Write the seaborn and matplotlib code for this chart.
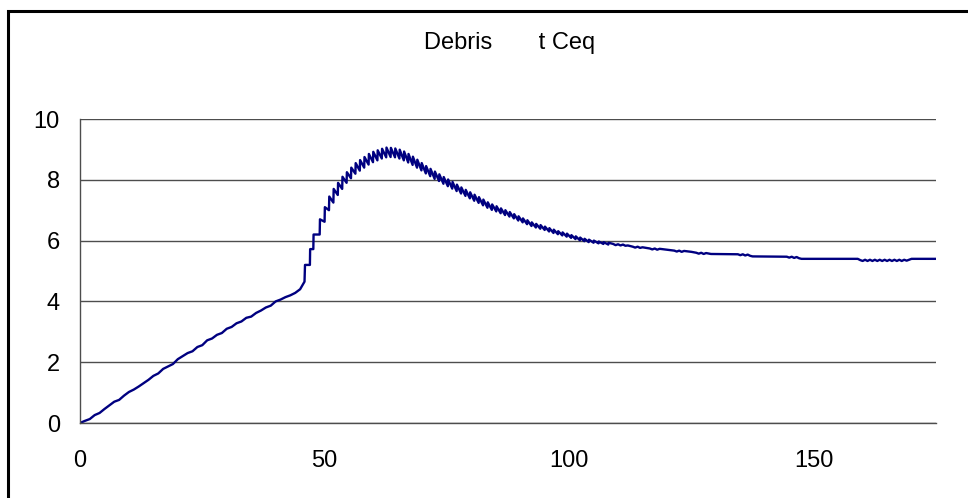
import numpy as np
import pandas as pd
import seaborn as sns
import matplotlib.pyplot as plt
from matplotlib.patches import Rectangle

# debris concentration vs time
# slow rise up to ~46
t_rise = [0, 1, 2, 3, 4, 5, 6, 7, 8, 9, 10, 11, 12, 13, 14, 15, 16, 17, 18, 19,
          20, 21, 22, 23, 24, 25, 26, 27, 28, 29, 30, 31, 32, 33, 34, 35, 36,
          37, 38, 39, 40, 41, 42, 43, 44, 45, 45.9]
c_rise = [0.0, 0.07, 0.13, 0.26, 0.33, 0.46, 0.58, 0.70, 0.76, 0.90, 1.02, 1.10,
          1.20, 1.31, 1.42, 1.55, 1.63, 1.78, 1.86, 1.94, 2.10, 2.20, 2.30, 2.36,
          2.50, 2.56, 2.72, 2.78, 2.90, 2.96, 3.10, 3.16, 3.28, 3.34, 3.46, 3.50,
          3.62, 3.70, 3.80, 3.86, 4.00, 4.06, 4.14, 4.20, 4.28, 4.40, 4.65]

# staircase jumps 46-49
t_step = [46.0, 47.0, 47.05, 47.7, 47.75]
c_step = [5.20, 5.20, 5.72, 5.72, 6.20]

# sawtooth: time of each tooth, value just before the jump and just after
t_saw = [49.0, 50.0, 50.9, 51.8, 52.7, 53.6, 54.5, 55.4, 56.3, 57.2, 58.1, 59.0,
         59.9, 60.8, 61.7, 62.6, 63.5, 64.4, 65.3, 66.2, 67.1, 68.0, 68.9, 69.8,
         70.7, 71.6, 72.5, 73.4, 74.3, 75.2, 76.1, 77.0, 77.9, 78.8, 79.7, 80.6,
         81.5, 82.4, 83.3, 84.2, 85.1, 86.0, 86.9, 87.8, 88.7, 89.6, 90.5, 91.4,
         92.3, 93.2, 94.1, 95.0, 95.9, 96.8, 97.7, 98.6, 99.5, 100.4, 101.3,
         102.2, 103.1, 104.0, 105.0, 106.0, 107.0, 108.0]
c_low = [6.20, 6.62, 7.00, 7.25, 7.50, 7.70, 7.90, 8.05, 8.20, 8.30, 8.40, 8.50,
         8.58, 8.64, 8.70, 8.74, 8.75, 8.74, 8.70, 8.64, 8.57, 8.49, 8.40, 8.31,
         8.21, 8.12, 8.03, 7.96, 7.87, 7.79, 7.71, 7.63, 7.55, 7.47, 7.39, 7.31,
         7.24, 7.16, 7.08, 7.01, 6.96, 6.90, 6.84, 6.79, 6.73, 6.66, 6.60, 6.54,
         6.48, 6.43, 6.39, 6.35, 6.30, 6.25, 6.21, 6.17, 6.13, 6.09, 6.05, 6.01,
         5.98, 5.95, 5.93, 5.91, 5.89, 5.87]
c_high = [6.70, 7.10, 7.45, 7.70, 7.90, 8.10, 8.25, 8.40, 8.55, 8.65, 8.75, 8.85,
          8.92, 8.97, 9.02, 9.06, 9.05, 9.03, 8.99, 8.93, 8.85, 8.76, 8.66, 8.55,
          8.45, 8.36, 8.27, 8.18, 8.09, 8.01, 7.93, 7.84, 7.75, 7.67, 7.59, 7.51,
          7.43, 7.35, 7.26, 7.19, 7.13, 7.06, 7.00, 6.94, 6.87, 6.80, 6.73, 6.67,
          6.60, 6.55, 6.51, 6.46, 6.41, 6.36, 6.31, 6.27, 6.23, 6.18, 6.14, 6.10,
          6.06, 6.03, 6.00, 5.97, 5.95, 5.93]

# slow tail towards equilibrium, with small flickers
t_tail = [109, 109.5, 110, 110.5, 111, 111.5, 112, 113, 113.5, 114, 114.5, 115,
          116.5, 117, 117.5, 118, 118.5, 120, 121.5, 122, 122.5, 123, 123.5,
          125, 126, 126.5, 127, 127.5, 128, 129, 134.5, 135, 135.5, 136, 136.5,
          137, 137.5, 144.5, 145, 145.5, 146, 146.5, 147, 147.5, 159, 159.5,
          160, 160.5, 161, 161.5, 162, 162.5, 163, 163.5, 164, 164.5, 165,
          165.5, 166, 166.5, 167, 167.5, 168, 168.5, 169, 169.5, 170, 175]
c_tail = [5.89, 5.85, 5.88, 5.84, 5.87, 5.83, 5.84, 5.80, 5.77, 5.80, 5.76, 5.78,
          5.74, 5.71, 5.74, 5.70, 5.73, 5.70, 5.67, 5.64, 5.67, 5.63, 5.66,
          5.63, 5.60, 5.57, 5.60, 5.56, 5.59, 5.56, 5.55, 5.52, 5.55, 5.51, 5.54,
          5.50, 5.48, 5.47, 5.44, 5.47, 5.43, 5.46, 5.42, 5.40, 5.40, 5.36,
          5.33, 5.37, 5.33, 5.37, 5.33, 5.37, 5.33, 5.37, 5.33, 5.37, 5.33,
          5.37, 5.33, 5.37, 5.33, 5.37, 5.33, 5.37, 5.34, 5.37, 5.40, 5.40]

x_ticks = [0, 50, 100, 150]
y_ticks = [0, 2, 4, 6, 8, 10]
title = "Debris       t Ceq"

# build the time series: each tooth -> low point then jump to high point
t_all = list(t_rise) + list(t_step)
c_all = list(c_rise) + list(c_step)
for tt, lo, hi in zip(t_saw, c_low, c_high):
    t_all += [tt, tt + 0.06]
    c_all += [lo, hi]
t_all += t_tail
c_all += c_tail
df = pd.DataFrame({'t': t_all, 'Ceq': c_all})

sns.set_style('white')
plt.rcParams['font.family'] = ['Liberation Sans', 'DejaVu Sans']

fig = plt.figure(figsize=(9.68, 4.98), dpi=100)
ax = fig.add_axes([80 / 968, 75 / 498, 856 / 968, 304 / 498])

sns.lineplot(data=df, x='t', y='Ceq', ax=ax, color='#000080', linewidth=1.7,
             sort=False, estimator=None)

ax.set_xlim(0, 175)
ax.set_ylim(0, 10)
ax.set_xticks(x_ticks)
ax.set_yticks(y_ticks)
ax.set_xlabel('')
ax.set_ylabel('')
ax.yaxis.grid(True, color='#4d4d4d', linewidth=1.0)
ax.xaxis.grid(False)
for side in ['top', 'right']:
    ax.spines[side].set_visible(False)
for side in ['left', 'bottom']:
    ax.spines[side].set_color('#4d4d4d')
    ax.spines[side].set_linewidth(1.0)
ax.tick_params(axis='both', which='major', direction='out', length=5.5,
               width=1.0, color='#4d4d4d', labelsize=17, labelcolor='black')
ax.tick_params(axis='y', pad=9)
ax.tick_params(axis='x', pad=14)

fig.text(510 / 968, 1 - 43 / 498, title, ha='center', va='center',
         fontsize=17, color='black')

# outer chart border (runs off the right and bottom edges)
fig.patches.append(Rectangle((8 / 968, -0.1), 1.2, 1.1 - 11 / 498,
                             transform=fig.transFigure, fill=False,
                             edgecolor='black', linewidth=2.2))

fig.savefig('out.png', dpi=100)
